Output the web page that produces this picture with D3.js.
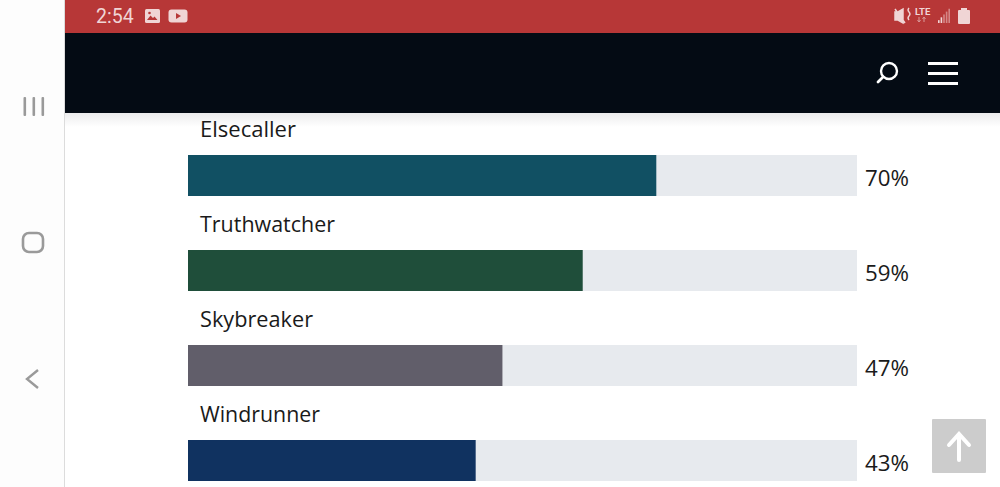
<!DOCTYPE html>
<html><head><meta charset="utf-8">
<style>html,body{margin:0;padding:0;background:#fff;overflow:hidden}svg{display:block}</style>
<script src="https://cdn.jsdelivr.net/npm/d3@7/dist/d3.min.js"></script></head>
<body><script>
const categories=["Elsecaller","Truthwatcher","Skybreaker","Windrunner"];
const percents=[70,59,47,43];
const barColors=["#115063","#1f4e3a","#615e6a","#103260"];
const labelWidths=[96,135,113,120];
const W=1000,H=487;
const svg=d3.select("body").append("svg").attr("width",W).attr("height",H);
const font="'Open Sans','Noto Sans',sans-serif";
const defs=svg.append("defs");
const g=defs.append("linearGradient").attr("id","sh").attr("x1",0).attr("y1",0).attr("x2",0).attr("y2",1);
g.append("stop").attr("offset",0).attr("stop-color","#ececed");
g.append("stop").attr("offset",1).attr("stop-color","#fff");

// page chrome
svg.append("rect").attr("x",65).attr("y",113).attr("width",935).attr("height",14).attr("fill","url(#sh)");
svg.append("rect").attr("x",0).attr("y",0).attr("width",64).attr("height",H).attr("fill","#fdfdfd");
svg.append("rect").attr("x",64).attr("y",0).attr("width",1).attr("height",H).attr("fill","#dcdcdc");
svg.append("rect").attr("x",65).attr("y",0).attr("width",935).attr("height",33).attr("fill","#b73737");
svg.append("rect").attr("x",65).attr("y",33).attr("width",935).attr("height",80).attr("fill","#040b14");

// bars
const x=d3.scaleLinear().domain([0,100]).range([188,857]);
const y=d3.scaleBand().domain(categories).range([155,535]);
const barH=41;
const row=svg.selectAll("g.row").data(categories).join("g").attr("class","row");
row.append("rect").attr("x",x(0)).attr("y",d=>y(d)).attr("width",x(100)-x(0)).attr("height",barH).attr("fill","#e7eaee");
row.append("rect").attr("x",x(0)).attr("y",d=>y(d)).attr("width",(d,i)=>x(percents[i])-x(0)).attr("height",barH).attr("fill",(d,i)=>barColors[i]);
row.append("text").attr("x",200).attr("y",d=>y(d)-18.5).attr("font-family",font).attr("font-size",22.5).attr("fill","#1a1a1a").attr("textLength",(d,i)=>labelWidths[i]).attr("lengthAdjust","spacingAndGlyphs").text(d=>d);
row.append("text").attr("x",865).attr("y",d=>y(d)+30.5).attr("font-family",font).attr("font-size",22.5).attr("fill","#1a1a1a").attr("textLength",44).attr("lengthAdjust","spacingAndGlyphs").text((d,i)=>percents[i]+"%");

// status bar
const pale="#f0d5d5";
svg.append("text").attr("x",96).attr("y",23).attr("font-family","Roboto,sans-serif").attr("font-size",19.5).attr("fill",pale).text("2:54");
svg.append("rect").attr("x",145).attr("y",9).attr("width",15).attr("height",14).attr("rx",1.5).attr("fill",pale);
svg.append("path").attr("d","M147 20l3.5-4.5 2.5 2.5 1.5-1.5 3 3.5z").attr("fill","#b73737");
svg.append("circle").attr("cx",149.5).attr("cy",13).attr("r",1.3).attr("fill","#b73737");
svg.append("rect").attr("x",168.5).attr("y",9.5).attr("width",19).attr("height",13).attr("rx",3).attr("fill",pale);
svg.append("path").attr("d","M176 13l5 3-5 3z").attr("fill","#b73737");
svg.append("path").attr("d","M895 12h3l5-3v14l-5-3h-3z M895 9l10 14").attr("fill",pale).attr("stroke",pale).attr("stroke-width",1.5);
svg.append("path").attr("d","M909 8q-2 2 0 4t0 4 0 4").attr("fill","none").attr("stroke",pale).attr("stroke-width",1.4);
svg.append("text").attr("x",915).attr("y",15).attr("font-family","Roboto,sans-serif").attr("font-weight",700).attr("font-size",9.5).attr("fill",pale).text("LTE");
svg.append("path").attr("d","M919 17v5M917.5 20l1.5 2 1.5-2M924 22v-5M922.5 19l1.5-2 1.5 2").attr("fill","none").attr("stroke","#d99a9a").attr("stroke-width",1);
svg.selectAll("rect.sig").data([3,6,9,12,15]).join("rect").attr("class","sig").attr("x",(d,i)=>938+i*2.6).attr("y",d=>23-d*.95).attr("width",1.6).attr("height",d=>d*.95).attr("fill",(d,i)=>i<2?pale:"#d58787");
svg.append("rect").attr("x",958).attr("y",10).attr("width",12).attr("height",14).attr("rx",1).attr("fill",pale);
svg.append("rect").attr("x",961).attr("y",8).attr("width",6).attr("height",2).attr("fill",pale);

// header icons
svg.append("circle").attr("cx",889).attr("cy",71).attr("r",8).attr("fill","none").attr("stroke","#fff").attr("stroke-width",2.4);
svg.append("path").attr("d","M883 77l-5 5").attr("stroke","#fff").attr("stroke-width",2.8).attr("stroke-linecap","round");
svg.selectAll("rect.menu").data([62,72,82]).join("rect").attr("class","menu").attr("x",928).attr("y",d=>d).attr("width",30).attr("height",3).attr("fill","#fff");

// nav bar
const nav="#9a9a9a";
svg.selectAll("rect.nv").data([24,33,42]).join("rect").attr("class","nv").attr("x",d=>d-.5).attr("y",97).attr("width",2.6).attr("height",19).attr("rx",1).attr("fill",nav);
svg.append("rect").attr("x",23).attr("y",233).attr("width",20).attr("height",19).attr("rx",6).attr("fill","none").attr("stroke",nav).attr("stroke-width",2.6);
svg.append("path").attr("d","M38 370l-11 9 11 9").attr("fill","none").attr("stroke",nav).attr("stroke-width",2.4);

// back-to-top
svg.append("rect").attr("x",932).attr("y",419).attr("width",54).attr("height",54).attr("rx",1).attr("fill","#cccccc");
svg.append("path").attr("d","M959 460v-26M949 445l10-11 10 11").attr("fill","none").attr("stroke","#fff").attr("stroke-width",4).attr("stroke-linecap","round");
</script></body></html>
